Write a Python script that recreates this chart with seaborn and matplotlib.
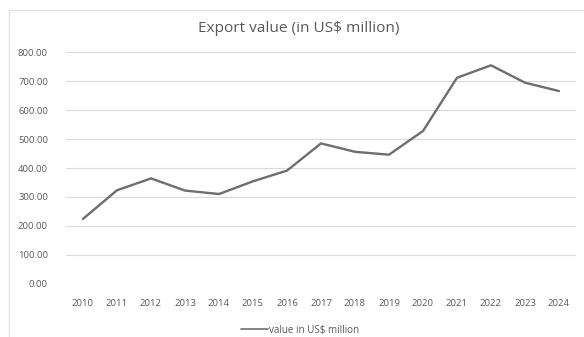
import matplotlib
matplotlib.use("Agg")
import matplotlib.pyplot as plt
from matplotlib.lines import Line2D
import pandas as pd
import seaborn as sns

years = ["2010", "2011", "2012", "2013", "2014", "2015", "2016", "2017",
         "2018", "2019", "2020", "2021", "2022", "2023", "2024"]
export_value = [224, 323, 364, 322, 310, 354, 391, 485,
                456, 446, 528, 712, 755, 695, 666]
y_ticks = [0, 100, 200, 300, 400, 500, 600, 700, 800]
series_name = "value in US$ million"
title = "Export value (in US$ million)"

sns.set_theme(style="white")
plt.rcParams["font.family"] = ["Open Sans", "DejaVu Sans"]

text_color = "#595959"
grid_color = "#d9d9d9"
line_color = "#6e6e6e"

df = pd.DataFrame({"year": years, "value": export_value})

W, H = 584, 337
fig = plt.figure(figsize=(W / 100, H / 100), dpi=100)
ax = fig.add_axes([66 / W, 1 - 283.7 / H, 510 / W, (283.7 - 52.3) / H])

sns.lineplot(data=df, x="year", y="value", ax=ax, color=line_color,
             linewidth=1.7, sort=False, legend=False)

ax.set_xlim(-0.5, len(years) - 0.5)
ax.set_ylim(y_ticks[0], y_ticks[-1])
ax.set_yticks(y_ticks)
ax.set_yticklabels([f"{v:.2f}" for v in y_ticks])
ax.yaxis.grid(True, color=grid_color, linewidth=0.8)
ax.xaxis.grid(False)
ax.set_axisbelow(True)
for side in ["top", "right", "left", "bottom"]:
    ax.spines[side].set_visible(False)
ax.tick_params(axis="both", length=0, labelsize=6.8, labelcolor=text_color)
ax.tick_params(axis="y", pad=13)
ax.tick_params(axis="x", pad=11)
ax.set_xlabel("")
ax.set_ylabel("")

fig.text(299 / W, 1 - 28.5 / H, title, ha="center", va="center",
         fontsize=11.1, color=text_color)

handle = Line2D([], [], color=line_color, linewidth=1.2)
fig.legend([handle], [series_name], loc="center", bbox_to_anchor=(300 / W, 1 - 330 / H),
           frameon=False, fontsize=7.1, labelcolor=text_color,
           handlelength=2.7, handletextpad=0.1)

# light chart-area frame along the left and top edges
fig.add_artist(Line2D([9 / W, 9 / W], [0, 1 - 10 / H], transform=fig.transFigure,
                      color="#e3e3e3", linewidth=0.9))
fig.add_artist(Line2D([9 / W, 1], [1 - 10 / H, 1 - 10 / H], transform=fig.transFigure,
                      color="#e3e3e3", linewidth=0.9))

fig.savefig("out.png", dpi=100)
